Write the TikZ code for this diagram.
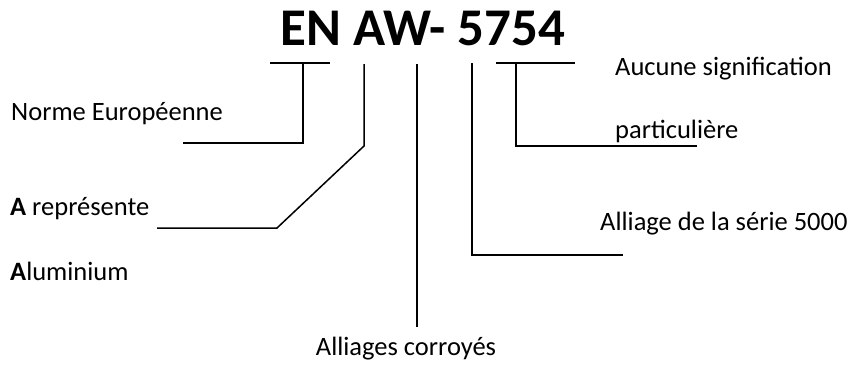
\documentclass[tikz,border=0pt]{standalone}
\usepackage{fontspec}
\setmainfont{Carlito}
\usepackage{tikz}
\usetikzlibrary{positioning,calc}

\begin{document}
\begin{tikzpicture}[x=1pt,y=-1pt,
    lbl/.style={font=\fontsize{26.5}{31}\selectfont,inner sep=0pt,anchor=base west},
    leader/.style={line width=1.5pt,black}]
  \useasboundingbox (0,0) rectangle (852,370);
  % designation
  \node[font=\fontsize{53}{60}\selectfont\bfseries,inner sep=0pt,anchor=base]
        (code) at (423,45) {EN AW- 5754};
  % labels
  \node[lbl] (norme)  at (11,120)  {Norme Européenne};
  \node[lbl] (arep)   at (10,215)  {\textbf{A} représente};
  \node[lbl] (alu)    at (10,280)  {\textbf{A}luminium};
  \node[lbl,anchor=base] (corroy) at (406,355) {Alliages corroyés};
  \node[lbl] (serie)  at (600,230) {Alliage de la série 5000};
  \node[lbl] (aucune) at (615,75)  {Aucune signification};
  \node[lbl] (partic) at (615,138) {particulière};
  % leader ends
  \coordinate (enL) at (270,63);  \coordinate (enR) at (330,63);
  \coordinate (enT) at (303,63);  \coordinate (enE) at (183,143);
  \coordinate (aT)  at (364,64);  \coordinate (aK)  at (364,146);
  \coordinate (aD)  at (277,228); \coordinate (aE)  at (157,228);
  \coordinate (wT)  at (417,64);  \coordinate (wE)  at (417,327);
  \coordinate (sT)  at (472,63);  \coordinate (sE)  at (623,255);
  \coordinate (nL)  at (496,63);  \coordinate (nR)  at (575,63);
  \coordinate (nT)  at (516,63);  \coordinate (nE)  at (697,146);
  % leaders
  \draw[leader] (enL) -- (enR);
  \draw[leader] (enT) |- (enE);
  \draw[leader] (aT) -- (aK) -- (aD) -- (aE);
  \draw[leader] (wT) -- (wE);
  \draw[leader] (sT) |- (sE);
  \draw[leader] (nL) -- (nR);
  \draw[leader] (nT) |- (nE);
\end{tikzpicture}
\end{document}
